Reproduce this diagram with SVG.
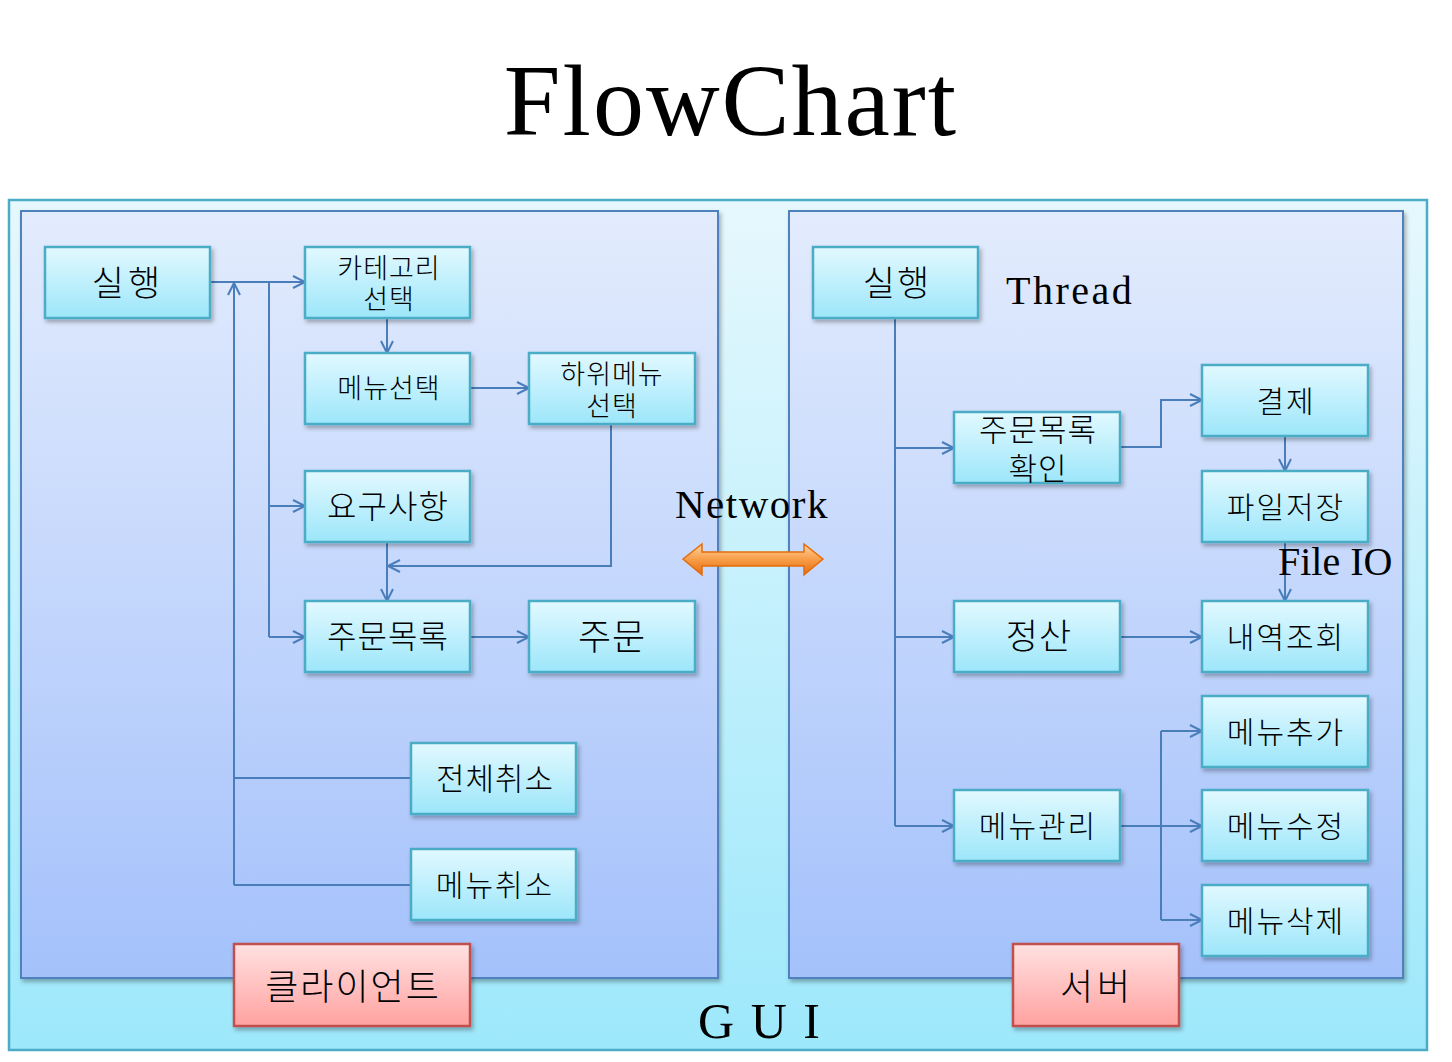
<svg xmlns="http://www.w3.org/2000/svg" width="1452" height="1062" viewBox="0 0 1452 1062">
<defs>
<linearGradient id="gOuter" x1="0" y1="0" x2="0" y2="1"><stop offset="0" stop-color="#e6f8fd"/><stop offset="1" stop-color="#9de8fb"/></linearGradient>
<linearGradient id="gPanel" x1="0" y1="0" x2="0" y2="1"><stop offset="0" stop-color="#e3ecfd"/><stop offset="1" stop-color="#a4c1fb"/></linearGradient>
<linearGradient id="gNode" x1="0" y1="0" x2="0" y2="1"><stop offset="0" stop-color="#e2f9ff"/><stop offset="1" stop-color="#9ce6fa"/></linearGradient>
<linearGradient id="gRed" x1="0" y1="0" x2="0" y2="1"><stop offset="0" stop-color="#ffe1e1"/><stop offset="1" stop-color="#ffa2a0"/></linearGradient>
<linearGradient id="gOrange" x1="0" y1="0" x2="0" y2="1"><stop offset="0" stop-color="#fcd5a3"/><stop offset="0.45" stop-color="#f9a24f"/><stop offset="1" stop-color="#e46c0a"/></linearGradient>
<filter id="sh" x="-10%" y="-10%" width="125%" height="135%"><feDropShadow dx="2" dy="3" stdDeviation="2" flood-color="#000" flood-opacity="0.3"/></filter>
<marker id="arr" markerWidth="16" markerHeight="16" refX="13" refY="7" orient="auto" markerUnits="userSpaceOnUse"><path d="M1,1 L13,7 L1,13" fill="none" stroke="#4a7ebb" stroke-width="2"/></marker>
</defs>
<style>
.outer{fill:url(#gOuter);stroke:#4bacc6;stroke-width:2.5}
.panel{fill:url(#gPanel);stroke:#4f81bd;stroke-width:2}
.node{fill:url(#gNode);stroke:#4bacc6;stroke-width:2.5;filter:url(#sh)}
.red{fill:url(#gRed);stroke:#c0504d;stroke-width:2.5;filter:url(#sh)}
.kt{font-family:"Noto Sans CJK KR","Noto Sans",sans-serif;font-weight:300;fill:#000;text-anchor:middle}
.lt{font-family:"Liberation Serif","DejaVu Serif",serif;fill:#000}
.con{fill:none;stroke:#4a7ebb;stroke-width:2}
.arw{marker-end:url(#arr)}
</style>
<rect width="1452" height="1062" fill="#fff"/>
<text class="lt" x="731" y="135" font-size="102" text-anchor="middle" letter-spacing="2">FlowChart</text>
<g id="gui"><rect class="outer" x="9" y="200" width="1418" height="850"/></g>
<g id="client-panel"><rect class="panel" x="21" y="211" width="697" height="767" filter="url(#sh)"/></g>
<g id="server-panel"><rect class="panel" x="789" y="211" width="614" height="767" filter="url(#sh)"/></g>
<text class="lt" x="760" y="1038" font-size="50" text-anchor="middle" letter-spacing="2">G U I</text>
<text class="lt" x="675" y="518" font-size="41" letter-spacing="1.5">Network</text>
<text class="lt" x="1006" y="304" font-size="40" letter-spacing="2.5">Thread</text>
<g id="network-arrow"><polygon points="683,559 702,544 702,552 804,552 804,544 823,559 804,575 804,566 702,566 702,575" fill="url(#gOrange)" stroke="#e46c0a" stroke-width="1.5"/></g>
<g id="connectors">
<path class="con arw" d="M210,282 H305"/>
<path class="con" d="M269,282 V637"/>
<path class="con arw" d="M269,506 H305"/>
<path class="con arw" d="M269,637 H305"/>
<path class="con arw" d="M234,885 V283"/>
<path class="con" d="M411,778 H234"/>
<path class="con" d="M411,885 H234"/>
<path class="con arw" d="M387,318 V353"/>
<path class="con arw" d="M470,388 H529"/>
<path class="con arw" d="M611,424 V566 H388"/>
<path class="con arw" d="M387,542 V601"/>
<path class="con arw" d="M470,637 H529"/>
<path class="con" d="M895,318 V826"/>
<path class="con arw" d="M895,448 H954"/>
<path class="con arw" d="M895,637 H954"/>
<path class="con arw" d="M895,826 H954"/>
<path class="con arw" d="M1120,447 H1161 V400 H1202"/>
<path class="con arw" d="M1285,436 V471"/>
<path class="con arw" d="M1285,542 V601"/>
<path class="con arw" d="M1120,637 H1202"/>
<path class="con arw" d="M1120,826 H1202"/>
<path class="con" d="M1161,731 V920"/>
<path class="con arw" d="M1161,731 H1202"/>
<path class="con arw" d="M1161,920 H1202"/>
</g>
<g id="n-run-c"><rect class="node" x="45" y="247" width="165" height="71"/><text class="kt" x="128" y="296" font-size="35" letter-spacing="4">실행</text></g>
<g id="n-category"><rect class="node" x="305" y="247" width="165" height="71"/><text class="kt" font-size="27" letter-spacing="1"><tspan x="389" y="278">카테고리</tspan><tspan x="389" y="309">선택</tspan></text></g>
<g id="n-menusel"><rect class="node" x="305" y="353" width="165" height="71"/><text class="kt" x="389" y="398" font-size="27" letter-spacing="1">메뉴선택</text></g>
<g id="n-submenu"><rect class="node" x="529" y="353" width="166" height="71"/><text class="kt" font-size="27" letter-spacing="1"><tspan x="612" y="384">하위메뉴</tspan><tspan x="612" y="416">선택</tspan></text></g>
<g id="n-request"><rect class="node" x="305" y="471" width="165" height="71"/><text class="kt" x="388" y="518" font-size="32" letter-spacing="1">요구사항</text></g>
<g id="n-orderlist"><rect class="node" x="305" y="601" width="165" height="71"/><text class="kt" x="388" y="648" font-size="32" letter-spacing="1">주문목록</text></g>
<g id="n-order"><rect class="node" x="529" y="601" width="166" height="71"/><text class="kt" x="612" y="650" font-size="36" letter-spacing="1">주문</text></g>
<g id="n-cancelall"><rect class="node" x="411" y="743" width="165" height="71"/><text class="kt" x="495" y="790" font-size="31" letter-spacing="1">전체취소</text></g>
<g id="n-cancelmenu"><rect class="node" x="411" y="849" width="165" height="71"/><text class="kt" x="495" y="896" font-size="30" letter-spacing="2">메뉴취소</text></g>
<g id="n-client"><rect class="red" x="234" y="944" width="236" height="82"/><text class="kt" x="353" y="1000" font-size="36" letter-spacing="2">클라이언트</text></g>
<g id="n-run-s"><rect class="node" x="813" y="247" width="165" height="71"/><text class="kt" x="897" y="296" font-size="35" letter-spacing="2">실행</text></g>
<g id="n-ordercheck"><rect class="node" x="954" y="412" width="166" height="71"/><text class="kt" font-size="31" letter-spacing="1"><tspan x="1038" y="441">주문목록</tspan><tspan x="1038" y="480">확인</tspan></text></g>
<g id="n-pay"><rect class="node" x="1202" y="365" width="166" height="71"/><text class="kt" x="1286" y="412" font-size="30" letter-spacing="2">결제</text></g>
<g id="n-filesave"><rect class="node" x="1202" y="471" width="166" height="71"/><text class="kt" x="1286" y="518" font-size="30" letter-spacing="2">파일저장</text></g>
<text class="lt" x="1278" y="575" font-size="40">File IO</text>
<g id="n-settle"><rect class="node" x="954" y="601" width="166" height="71"/><text class="kt" x="1039" y="649" font-size="35" letter-spacing="1">정산</text></g>
<g id="n-history"><rect class="node" x="1202" y="601" width="166" height="71"/><text class="kt" x="1286" y="648" font-size="30" letter-spacing="2">내역조회</text></g>
<g id="n-menuadd"><rect class="node" x="1202" y="696" width="166" height="71"/><text class="kt" x="1286" y="743" font-size="30" letter-spacing="2">메뉴추가</text></g>
<g id="n-menumgmt"><rect class="node" x="954" y="790" width="166" height="71"/><text class="kt" x="1038" y="837" font-size="30" letter-spacing="2">메뉴관리</text></g>
<g id="n-menuedit"><rect class="node" x="1202" y="790" width="166" height="71"/><text class="kt" x="1286" y="837" font-size="30" letter-spacing="2">메뉴수정</text></g>
<g id="n-menudel"><rect class="node" x="1202" y="885" width="166" height="71"/><text class="kt" x="1286" y="932" font-size="30" letter-spacing="2">메뉴삭제</text></g>
<g id="n-server"><rect class="red" x="1013" y="944" width="166" height="82"/><text class="kt" x="1097" y="1000" font-size="36" letter-spacing="4">서버</text></g>
</svg>
